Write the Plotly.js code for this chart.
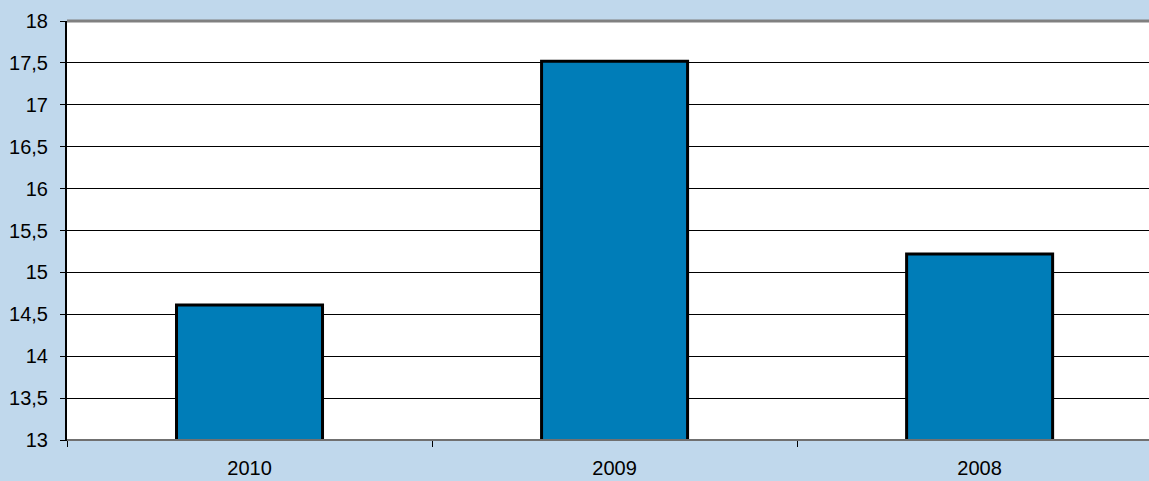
<!DOCTYPE html>
<html>
<head>
<meta charset="utf-8">
<script src="https://cdn.plot.ly/plotly-3.0.1.min.js"></script>
<style>
  html, body { margin: 0; padding: 0; background: #C0D8EC; }
  #chart { width: 1149px; height: 481px; }
</style>
</head>
<body>
<div id="chart"></div>
<script>
// Yearly values, newest first
const years = ['2010', '2009', '2008'];
const values = [14.61, 17.52, 15.22];
const yTicks = [13, 13.5, 14, 14.5, 15, 15.5, 16, 16.5, 17, 17.5, 18];

const trace = {
  type: 'bar',
  x: years,
  y: values,
  width: 0.4,
  marker: { color: '#007DB8', line: { color: '#000000', width: 3 } },
  hoverinfo: 'x+y'
};

const layout = {
  width: 1149,
  height: 481,
  margin: { l: 67, r: 0, t: 21, b: 41, pad: 0 },
  paper_bgcolor: '#C0D8EC',
  plot_bgcolor: '#FFFFFF',
  showlegend: false,
  font: { family: 'Liberation Sans, Arial, sans-serif', size: 20, color: '#000000' },
  xaxis: {
    type: 'category',
    range: [-0.5, 2.464],
    tickson: 'boundaries',
    ticks: 'outside',
    ticklen: 6,
    tickwidth: 1,
    tickcolor: '#000000',
    ticklabelstandoff: 10,
    showgrid: false,
    showline: true,
    linecolor: '#000000',
    linewidth: 1,
    zeroline: false,
    tickfont: { size: 20 },
    fixedrange: true
  },
  yaxis: {
    range: [13, 18],
    tickvals: yTicks,
    ticktext: yTicks.map(v => String(v).replace('.', ',')),
    ticks: 'outside',
    ticklen: 5,
    tickwidth: 1,
    tickcolor: '#000000',
    ticklabelstandoff: 8,
    showgrid: true,
    gridcolor: '#000000',
    gridwidth: 1,
    showline: true,
    linecolor: '#000000',
    linewidth: 2,
    zeroline: false,
    tickfont: { size: 20 },
    fixedrange: true
  },
  shapes: [
    // grey frame along the top of the plot area
    { type: 'line', xref: 'paper', yref: 'paper', x0: 0, x1: 1, y0: 1, y1: 1,
      line: { color: '#808080', width: 3 } },
    // grey shadow under the category axis
    { type: 'line', xref: 'paper', yref: 'paper', x0: 0, x1: 1, y0: 0, y1: 0,
      line: { color: '#707070', width: 2 } }
  ]
};

Plotly.newPlot('chart', [trace], layout, { displayModeBar: false, staticPlot: true });
</script>
</body>
</html>
